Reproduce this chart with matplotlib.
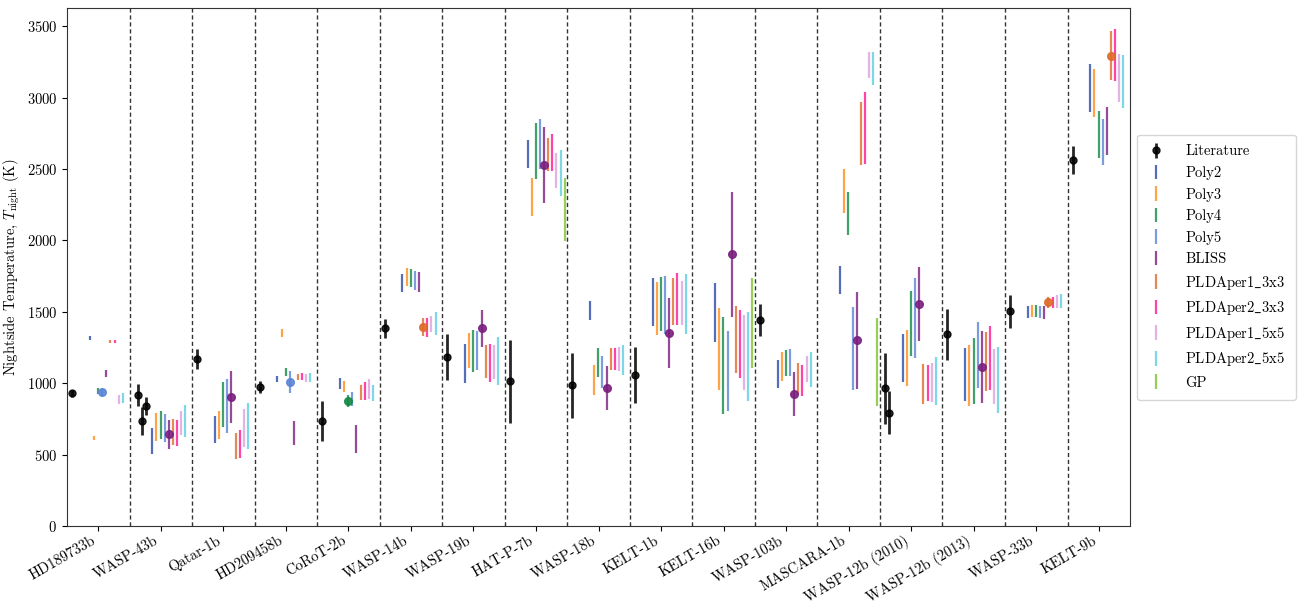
import numpy as np
import matplotlib
matplotlib.use('Agg')
import matplotlib.pyplot as plt

plt.rcParams['font.family'] = 'serif'
plt.rcParams['font.serif'] = ['cmr10', 'DejaVu Serif']
plt.rcParams['mathtext.fontset'] = 'cm'
plt.rcParams['axes.unicode_minus'] = False
plt.rcParams['axes.formatter.use_mathtext'] = True

planets = ['HD189733b', 'WASP-43b', 'Qatar-1b', 'HD209458b', 'CoRoT-2b', 'WASP-14b',
           'WASP-19b', 'HAT-P-7b', 'WASP-18b', 'KELT-1b', 'KELT-16b', 'WASP-103b',
           'MASCARA-1b', 'WASP-12b (2010)', 'WASP-12b (2013)', 'WASP-33b', 'KELT-9b']

# literature nightside temperatures (nan = empty slot)
lit_T = [[930], [np.nan, 919, 735, 842], [1171], [975], [735], [1384], [1185], [1015],
         [985], [1057], [], [1444], [], [964, 793], [1344], [1503], [2562]]
lit_err = [[25], [np.nan, 76, 97, 64], [71], [44], [142], [66], [160], [290],
           [230], [197], [], [110], [], [251, 150], [179], [117], [99]]

nan = np.nan
t_poly2 = [1316, 593, 677, 1029, 999, 1703, 1136, 2606, 1510, 1566, 1498, 1064, 1720, 1178, 1059, 1498, 3066]
e_poly2 = [12, 91, 92, 22, 36, 64, 136, 101, 66, 168, 207, 100, 98, 168, 186, 44, 168]
t_poly3 = [618, 695, 709, 1353, 978, 1743, 1230, 2303, 1022, 1522, 1239, 1118, 2345, 1176, 1055, 1505, 3033]
e_poly3 = [12, 97, 99, 27, 37, 63, 122, 132, 105, 186, 287, 99, 155, 197, 211, 42, 170]
t_poly4 = [945, 709, 852, 1080, 877, 1738, 1225, 2625, 1146, 1556, 1125, 1141, 2189, 1421, 1087, 1505, 2742]
e_poly4 = [23, 97, 159, 27, 44, 62, 147, 195, 103, 189, 337, 90, 149, 227, 233, 43, 163]
t_poly5 = [936, 686, 842, 1011, 891, 1720, 1230, 2676, 1078, 1549, 1087, 1146, 1244, 1456, 1197, 1498, 2690]
e_poly5 = [22, 99, 188, 76, 50, 66, 138, 178, 113, 203, 280, 92, 292, 281, 230, 44, 159]
t_bliss = [1069, 642, 905, 653, 609, 1710, 1384, 2527, 966, 1353, 1902, 926, 1302, 1554, 1113, 1496, 2770]
e_bliss = [23, 104, 182, 84, 99, 72, 128, 267, 153, 243, 439, 152, 340, 259, 254, 45, 168]
t_pld1_3 = [1293, 658, 560, 1043, 936, 1395, 1155, 2602, 1169, 1573, 1307, 1036, 2751, 994, 1153, 1566, 3295]
e_pld1_3 = [10, 92, 90, 22, 52, 61, 115, 113, 78, 165, 232, 109, 220, 138, 209, 41, 174]
t_pld2_3 = [1291, 653, 576, 1048, 945, 1391, 1141, 2616, 1169, 1591, 1276, 1022, 2788, 1003, 1178, 1566, 3299]
e_pld2_3 = [10, 91, 97, 24, 61, 65, 132, 128, 78, 183, 239, 109, 254, 128, 225, 41, 179]
t_pld1_5 = [887, 723, 686, 1038, 959, 1416, 1150, 2490, 1171, 1563, 1216, 1101, 3227, 1006, 1048, 1573, 3136]
e_pld1_5 = [30, 82, 133, 26, 68, 57, 121, 125, 83, 153, 264, 92, 90, 139, 194, 44, 167]
t_pld2_5 = [898, 737, 702, 1041, 933, 1416, 1157, 2473, 1162, 1554, 1190, 1099, 3206, 1013, 1022, 1577, 3113]
e_pld2_5 = [34, 111, 159, 33, 55, 80, 166, 163, 105, 210, 311, 122, 115, 168, 231, 48, 186]
t_gp = [nan, nan, nan, nan, nan, nan, nan, 2217, nan, nan, 1423, nan, 1150, nan, nan, nan, nan]
e_gp = [nan, nan, nan, nan, nan, nan, nan, 218, nan, nan, 317, nan, 307, nan, nan, nan, nan]

model_names = ['Poly2', 'Poly3', 'Poly4', 'Poly5', 'BLISS', 'PLDAper1_3x3',
               'PLDAper2_3x3', 'PLDAper1_5x5', 'PLDAper2_5x5', 'GP']
model_T = [t_poly2, t_poly3, t_poly4, t_poly5, t_bliss, t_pld1_3, t_pld2_3, t_pld1_5, t_pld2_5, t_gp]
model_err = [e_poly2, e_poly3, e_poly4, e_poly5, e_bliss, e_pld1_3, e_pld2_3, e_pld1_5, e_pld2_5, e_gp]

# best model for each planet
best_model = ['Poly5', 'BLISS', 'BLISS', 'Poly5', 'Poly4', 'PLDAper1_3x3', 'BLISS', 'BLISS',
              'BLISS', 'BLISS', 'BLISS', 'BLISS', 'BLISS', 'BLISS', 'BLISS',
              'PLDAper1_3x3', 'PLDAper1_3x3']

colors = ['#2a4aa8', '#ff8c1a', '#138a45', '#5b84d6', '#7a1f7f', '#de6a2a',
          '#ff1493', '#dda0dd', '#5ccfe0', '#7cc42a']

fig = plt.figure(figsize=(13.01, 6.04), dpi=100)
ax = fig.add_axes([0.0515, 0.129, 0.8171, 0.857])

x = np.arange(len(planets))

# literature
first = True
for i in range(len(planets)):
    for j, (t, e) in enumerate(zip(lit_T[i], lit_err[i])):
        if np.isnan(t):
            continue
        ax.errorbar(x[i] - 0.42 + 0.06 * j, t, yerr=e, fmt='o', color='k', ms=5,
                    elinewidth=2, alpha=0.85, label='Literature' if first else None, zorder=3)
        first = False

# models
for k, name in enumerate(model_names):
    xs = x - 0.135 + 0.066 * k
    ax.errorbar(xs, model_T[k], yerr=model_err[k], fmt='none', ecolor=colors[k],
                elinewidth=1.6, alpha=0.8, label=name.replace('_', r'$\_$'))
    sel = [i for i in range(len(planets)) if best_model[i] == name]
    if sel:
        ax.plot(xs[sel], np.array(model_T[k])[sel], 'o', color=colors[k], ms=5.5,
                alpha=0.9, zorder=4)

for i in range(len(planets) - 1):
    ax.axvline(i + 0.5, color='#333333', ls='--', lw=1.0, dashes=(3, 2))

ax.set_xlim(-0.5, len(planets) - 0.5)
ax.set_ylim(0, 3625)
ax.set_xticks(x)
ax.set_xticklabels(planets, rotation=30, ha='right', fontsize=10.5)
ax.tick_params(axis='x', pad=2)
ax.tick_params(axis='y', labelsize=10.5)
ax.set_ylabel(r'Nightside Temperature, $T_{\rm night}$ (K)', fontsize=10.5, labelpad=3)
for s in ax.spines.values():
    s.set_color('#333333')

ax.legend(loc='center left', bbox_to_anchor=(1.0, 0.5), fontsize=10.5,
          handlelength=1.2, handletextpad=1.4, borderpad=0.7, labelspacing=0.52)

fig.savefig('out.png', dpi=100)
